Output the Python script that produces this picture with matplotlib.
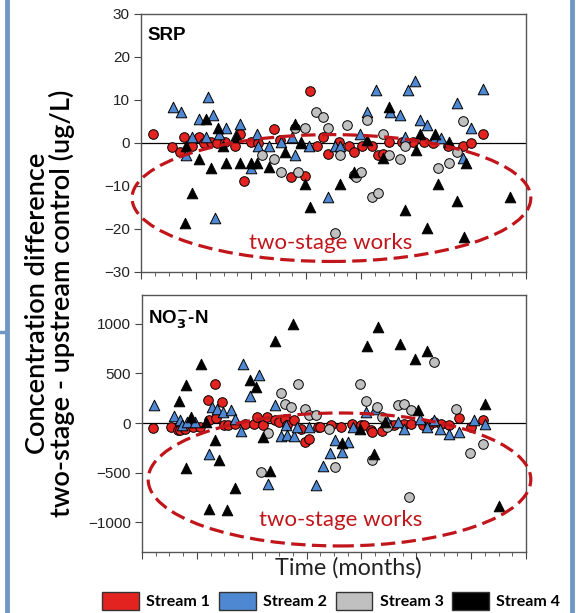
import matplotlib.pyplot as plt
from matplotlib.patches import Ellipse, Rectangle
from matplotlib.lines import Line2D
from matplotlib.ticker import MultipleLocator, NullFormatter

# ---- data (months, concentration difference) ----
srp_s1_x = [0.86, 2.25, 2.8, 3.1, 3.7, 4.2, 4.6, 5.1, 5.5, 6.1, 6.8, 7.2, 7.5, 8.0, 8.5, 9.7, 10.1,
            10.9, 11.9, 12.3, 12.8, 13.2, 13.6, 14.4, 15.1, 15.5, 16.1, 16.8, 17.2, 17.6, 18.0,
            19.0, 19.8, 20.6, 21.2, 22.3, 23.4, 24.0, 24.9]
srp_s1_y = [2.2, -0.9, -2, 1.5, -0.8, 1.5, 0, 0.3, 0, 0.3, -0.8, 2.2, -8.8, 0.3, 0, 3.3, 0.7,
            -7.8, -7.7, 12.2, -0.8, 1.3, -2.6, 0.3, -0.8, -2, -0.8, -0.8, -2.8, -2.6, 0.3,
            0.3, 0.3, 0.3, 0, -0.8, -0.8, 0.1, 2.2]

srp_s2_x = [2.3, 2.9, 3.3, 3.7, 4.2, 4.7, 4.9, 5.2, 5.4, 5.7, 6.2, 6.9, 7.2, 8.0, 8.4, 8.5, 9.3,
            10.2, 11.0, 11.2, 11.6, 12.2, 13.6, 14.1, 14.5, 15.9, 16.4, 17.1, 18.1, 18.8, 19.2,
            19.4, 19.9, 20.3, 20.8, 21.4, 21.8, 23.0, 23.4, 24.0, 24.9]
srp_s2_y = [8.4, 7.3, -2.8, 1.5, 5.5, 1.5, 10.6, 6.5, -17.5, 2.2, 3.4, 1.9, 4.3, -5.9, 2.2, -0.8,
            -0.8, 0.3, 1.3, -2.8, 0.3, -0.8, -12.5, -0.8, -0.8, 2.2, 7.3, 12.3, 7.3, 6.4, 1.5,
            12.3, 14.4, 5.3, 4.2, 1.5, 1.1, 9.4, -3.6, 3.4, 12.5]

srp_s3_x = [8.8, 9.7, 10.2, 11.2, 11.4, 11.9, 12.7, 13.2, 13.6, 14.1, 14.5, 15.0, 15.5, 15.6,
            16.0, 16.4, 16.8, 17.2, 17.6, 18.0, 18.8, 19.2, 21.6, 22.4, 23.0, 23.4]
srp_s3_y = [-2.8, -3.8, -6.7, 3.4, -6.8, 3.4, 7.3, 6.1, 3.4, -20.9, -2.8, 4.2, -7.4, -7.8,
            -6.7, 5.3, -12.5, -11.7, 2.2, -2.8, -3.8, -0.8, -5.9, -4.7, -2, 5.2]

srp_s4_x = [3.2, 3.3, 3.7, 4.2, 4.7, 5.1, 5.6, 5.95, 6.2, 6.9, 7.2, 8.0, 8.4, 9.3, 10.5, 11.2,
            11.6, 11.9, 12.3, 14.5, 15.5, 16.4, 17.6, 18.0, 19.2, 20.0, 20.3, 20.8, 21.4, 21.6,
            22.4, 23.0, 23.5, 23.6, 26.8]
srp_s4_y = [-18.5, -0.8, -11.6, -3.8, 5.6, -5.9, 3.4, -0.8, -4.7, 1.5, -4.7, -4.7, -4.7, -5.5,
            -2, 4.3, 0, -9.6, -14.8, -9.6, -6.7, 0.7, -3.6, 8.4, -15.6, -1.6, 2.2, -19.7, 2.2,
            -9.6, 0.3, -13.6, -21.8, -4.7, -12.5]

no3_s1_x = [0.8, 2.1, 2.6, 2.8, 3.1, 3.7, 4.2, 4.8, 4.9, 5.3, 5.4, 5.8, 6.0, 6.3, 6.8, 7.5, 8.2,
            8.4, 8.8, 9.1, 9.7, 10.0, 10.4, 10.6, 11.1, 11.6, 11.9, 12.2, 12.8, 13.0, 13.8, 14.5,
            15.3, 16.0, 16.2, 16.7, 16.8, 17.5, 18.1, 18.4, 19.1, 19.6, 20.5, 20.9, 21.3, 21.8,
            22.4, 23.1, 24.0, 24.9]
no3_s1_y = [-46, -40, -73, -67, -56, -40, -40, 228, 27, 396, 47, 211, -23, -23, -6, -6, -6,
            60, -23, 60, 27, 10, 44, -23, 27, -56, -191, -157, -40, -40, -23, -40,
            -6, -23, -23, -74, -90, -80, -23, -23, -7, -6, -23, -23, 10, -6,
            -23, 50, -40, 27]

no3_s2_x = [0.86, 2.3, 2.8, 2.9, 3.3, 3.9, 4.9, 5.1, 5.5, 5.9, 6.5, 6.8, 7.2, 7.4, 7.9, 8.5,
            9.2, 9.7, 10.1, 10.5, 10.6, 11.1, 11.3, 12.2, 12.7, 13.2, 13.7, 14.1, 14.6, 15.0,
            15.4, 16.3, 17.0, 17.8, 18.7, 19.1, 20.3, 20.8, 21.3, 21.7, 22.4, 23.1, 24.2, 25.0]
no3_s2_y = [178, 67, 27, -23, 10, 10, -309, 161, 144, 111, 134, 44, -81, 591, 268, 480,
            -611, 178, -134, -23, -124, -134, -40, -40, -628, -433, -302, -175, -292, -191,
            -40, 111, 144, 44, 10, -57, 44, -40, 27, -57, -107, -91, 27, -7]

no3_s3_x = [8.7, 9.2, 10.1, 10.4, 10.9, 11.4, 11.9, 12.2, 12.7, 13.6, 14.1, 15.9, 16.3, 16.8,
            17.1, 17.5, 17.9, 18.7, 19.1, 19.5, 19.6, 21.3, 22.9, 23.9, 24.9]
no3_s3_y = [-493, -100, 302, 195, 161, 396, 145, 77, 77, -57, -448, 396, 221, -375,
            161, 60, -40, 178, 195, -745, 128, 614, 145, -301, -208]

no3_s4_x = [2.7, 3.2, 3.2, 3.6, 4.3, 4.7, 4.9, 5.3, 5.6, 6.2, 6.8, 7.9, 8.3, 8.8, 9.3, 9.7,
            11.0, 14.6, 15.9, 16.4, 16.9, 17.2, 17.7, 18.8, 19.9, 20.1, 20.8, 25.0, 26.0]
no3_s4_y = [221, 379, -453, 60, 597, 10, -862, -175, -376, -879, -651, 430, 362, -141, -487,
            826, 1000, -201, -57, 772, -309, 967, 10, 799, 648, 130, 725, 195, -839]

streams = ['Stream 1', 'Stream 2', 'Stream 3', 'Stream 4']
colors = ['#e3231f', '#4f88d2', '#c0c0c0', '#000000']
markers = ['o', '^', 'o', '^']

red = '#c0161b'

fig = plt.figure(figsize=(5.76, 6.13), dpi=100)
ax1 = fig.add_axes([0.2448, 0.5563, 0.6684, 0.4209])
ax2 = fig.add_axes([0.2465, 0.0995, 0.6667, 0.4192])

srp = [(srp_s1_x, srp_s1_y), (srp_s2_x, srp_s2_y), (srp_s3_x, srp_s3_y), (srp_s4_x, srp_s4_y)]
no3 = [(no3_s1_x, no3_s1_y), (no3_s2_x, no3_s2_y), (no3_s3_x, no3_s3_y), (no3_s4_x, no3_s4_y)]

for ax, data in [(ax1, srp), (ax2, no3)]:
    ax.axhline(0, color='black', lw=0.9, zorder=1)
    for (x, y), c, m in zip(data, colors, markers):
        ax.scatter(x, y, s=48 if m == 'o' else 58, marker=m, c=c,
                   edgecolors='black', linewidths=0.7, zorder=3)
    ax.set_xlim(0, 28)
    ax.xaxis.set_major_locator(MultipleLocator(4))
    ax.xaxis.set_minor_locator(MultipleLocator(1))
    ax.xaxis.set_major_formatter(NullFormatter())
    ax.tick_params(axis='x', which='major', direction='out', length=5, color='#444444')
    ax.tick_params(axis='x', which='minor', direction='out', length=3, color='#444444')
    ax.tick_params(axis='y', direction='out', length=5, color='#444444',
                   labelsize=11, labelcolor='#222222', pad=3)
    for sp in ax.spines.values():
        sp.set_color('#555555')
        sp.set_linewidth(1.0)

ax1.set_ylim(-30, 30)
ax1.set_yticks([-30, -20, -10, 0, 10, 20, 30])
ax2.set_ylim(-1300, 1290)
ax2.set_yticks([-1000, -500, 0, 500, 1000])
for ax in (ax1, ax2):
    for lab in ax.get_yticklabels():
        lab.set_family('Liberation Sans')

ax1.text(0.016, 0.95, 'SRP', transform=ax1.transAxes, ha='left', va='top',
         fontsize=13.5, fontweight='bold', family='Liberation Sans')
ax2.text(0.016, 0.95, r'NO$_\mathbf{3}^\mathbf{-}$-N', transform=ax2.transAxes, ha='left', va='top',
         fontsize=13.5, fontweight='bold', family='Liberation Sans')

# dashed ellipses ("two-stage works" region)
ax1.add_patch(Ellipse((13.85, -12.8), 29.0, 29.5, fill=False, ec=red, lw=2.3,
                      ls=(0, (4.5, 2)), clip_on=False, zorder=5))
ax1.text(13.8, -23.3, 'two-stage works', color=red, fontsize=16, family='Lato',
         ha='center', va='center', zorder=6)
ax2.add_patch(Ellipse((14.4, -569), 27.9, 1340, fill=False, ec=red, lw=2.3,
                      ls=(0, (4.5, 2)), clip_on=False, zorder=5))
ax2.text(14.5, -975, 'two-stage works', color=red, fontsize=16, family='Lato',
         ha='center', va='center', zorder=6)

fig.text(0.086, 0.505, 'Concentration difference\ntwo-stage - upstream control (ug/L)',
         rotation=90, ha='center', va='center', multialignment='center',
         fontsize=19.5, family='Lato', fontweight='semibold', linespacing=0.95)
fig.text(0.604, 0.073, 'Time (months)', ha='center', va='center', fontsize=16.8,
         family='Lato', color='#222222')

handles = [Rectangle((0, 0), 1, 1, fc=c, ec='#333333', lw=1.0) for c in colors]
fig.legend(handles, streams, loc='center', bbox_to_anchor=(0.575, 0.0196), ncol=4,
           frameon=False, prop={'family': 'Lato', 'weight': 'bold', 'size': 11.5},
           handlelength=2.3, handleheight=1.4, handletextpad=0.45, columnspacing=0.55)

# blue frame lines
frame = '#7098c4'
fig.add_artist(Line2D([6.5 / 576, 6.5 / 576], [0, 1], color=frame, lw=3.5))
fig.add_artist(Line2D([572 / 576, 572 / 576], [0, 1], color=frame, lw=3.5))
fig.add_artist(Line2D([0, 7 / 576], [1 - 332 / 613, 1 - 332 / 613], color=frame, lw=2.5))

fig.savefig('out.png', dpi=100)
